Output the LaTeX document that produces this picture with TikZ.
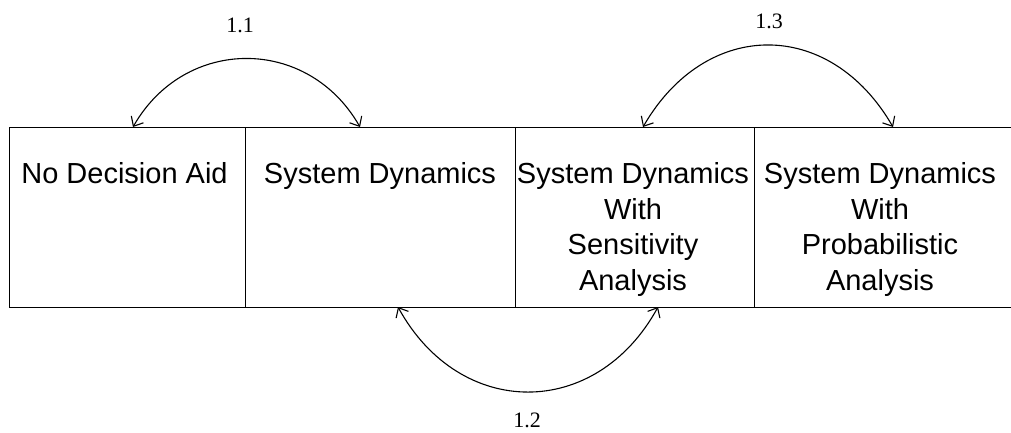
\documentclass[tikz,border=0pt]{standalone}
\usepackage{fontspec}
\setmainfont{Liberation Serif}
\newfontfamily\arialfont{Liberation Sans}
\usetikzlibrary{arrows.meta}
\begin{document}
\begin{tikzpicture}[x=1pt,y=-1pt, line width=1.3pt,
  cell/.style={draw, inner sep=0pt, minimum height=180pt, anchor=north west},
  celltext/.style={font=\arialfont\fontsize{29}{35.5}\selectfont, align=center, anchor=north, inner sep=0pt},
  numlabel/.style={font=\fontsize{22}{24}\selectfont, inner sep=0pt},
  link/.style={{Straight Barb[length=8pt,width=14pt]}-{Straight Barb[length=8pt,width=14pt]}, line width=1.1pt}]
\useasboundingbox (0,0) rectangle (1011,432);
% cells
\node[cell, minimum width=236pt] (c1) at (9,127) {};
\node[cell, minimum width=270pt] (c2) at (245,127) {};
\node[cell, minimum width=239pt] (c3) at (515,127) {};
\node[cell, minimum width=262pt] (c4) at (754,127) {};
% texts
\node[celltext] (t1) at (124.5,162) {No Decision Aid};
\node[celltext] (t2) at (380,162) {System Dynamics};
\node[celltext] (t3) at (633,162) {System Dynamics\\With\\Sensitivity\\Analysis};
\node[celltext] (t4) at (880,162) {System Dynamics\\With\\Probabilistic\\Analysis};
% arrow ends
\coordinate (a1) at (133,127);
\coordinate (b1) at (360,127);
\coordinate (a2) at (398,307);
\coordinate (b2) at (658,307);
\coordinate (a3) at (643,127);
\coordinate (b3) at (893,127);
\draw[link] (a1) .. controls (185,36) and (308,36) .. (b1);
\draw[link] (a2) .. controls (460,420) and (596,420) .. (b2);
\draw[link] (a3) .. controls (706,18) and (830,18) .. (b3);
% labels
\node[numlabel] (l1) at (240,25.5) {1.1};
\node[numlabel] (l2) at (527,420) {1.2};
\node[numlabel] (l3) at (769,21) {1.3};
\end{tikzpicture}
\end{document}
